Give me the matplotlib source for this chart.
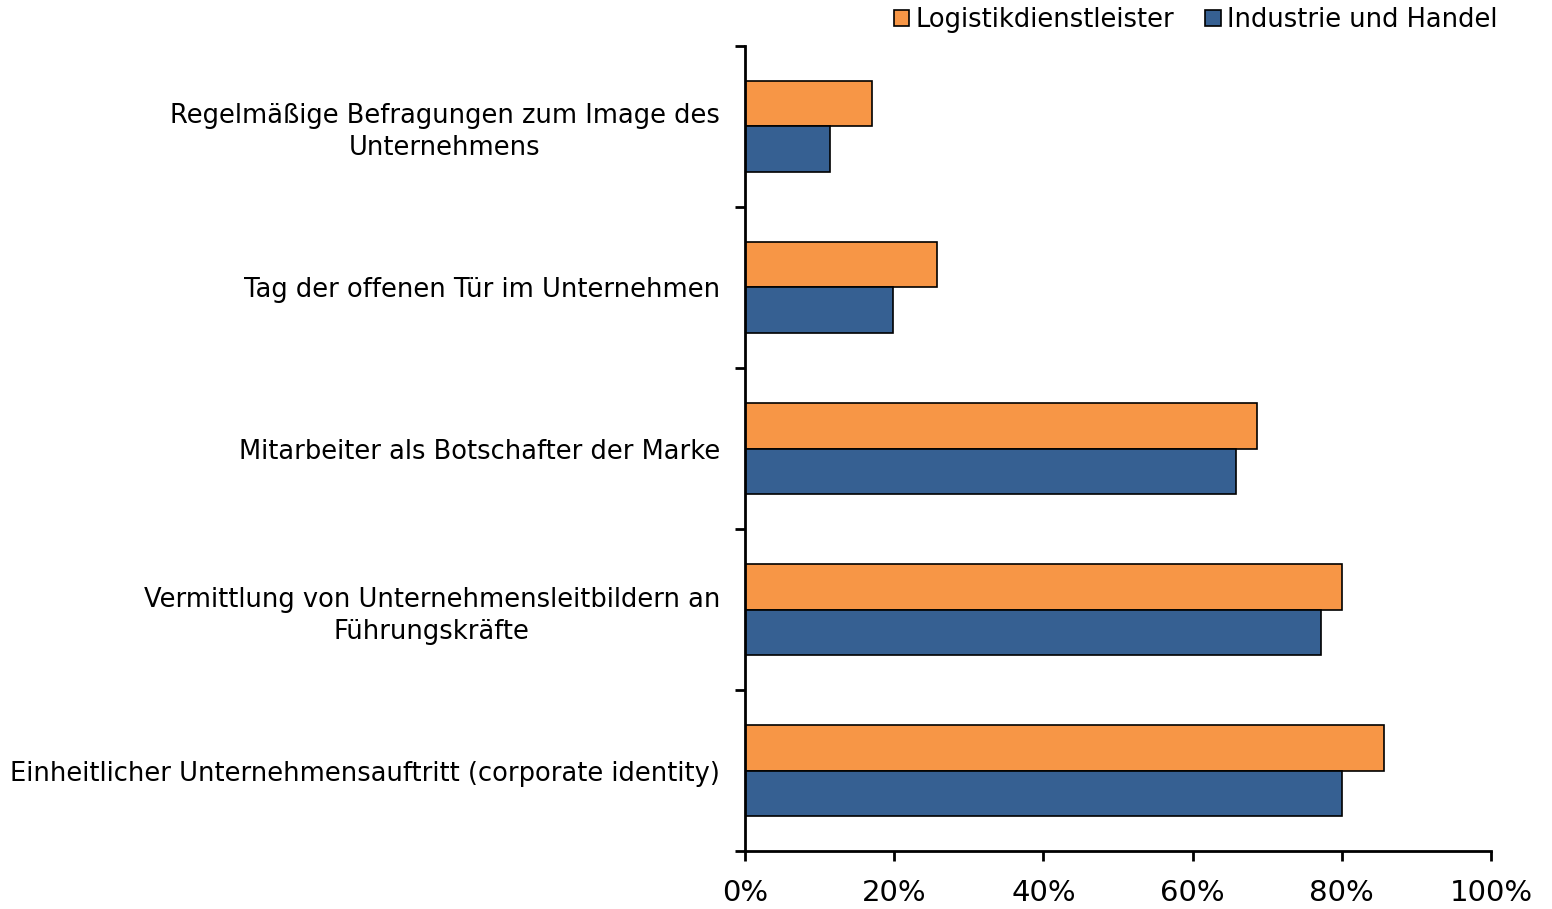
import matplotlib.pyplot as plt
import numpy as np

categories = [
    'Einheitlicher Unternehmensauftritt (corporate identity)',
    'Vermittlung von Unternehmensleitbildern an\nFührungskräfte',
    'Mitarbeiter als Botschafter der Marke',
    'Tag der offenen Tür im Unternehmen',
    'Regelmäßige Befragungen zum Image des\nUnternehmens',
]
logistik = [85.7, 80.0, 68.6, 25.7, 17.0]
industrie = [80.0, 77.2, 65.8, 19.8, 11.4]
xticks = [0, 20, 40, 60, 80, 100]

plt.rcParams['font.family'] = ['DejaVu Sans']

fig = plt.figure(figsize=(15.52, 9.09), dpi=100)
ax = fig.add_axes([0.480, 0.0638, 0.4807, 0.8856])

y = np.arange(len(categories))
h = 0.285
ax.barh(y + h / 2, logistik, height=h, color='#F79646', edgecolor='black',
        linewidth=1.2, label='Logistikdienstleister')
ax.barh(y - h / 2, industrie, height=h, color='#366092', edgecolor='black',
        linewidth=1.2, label='Industrie und Handel')

ax.set_xlim(0, 100)
ax.set_ylim(-0.5, len(categories) - 0.5)
ax.set_xticks(xticks)
ax.set_xticklabels([f'{v}%' for v in xticks], fontsize=21)
ax.tick_params(axis='x', direction='out', length=7, width=2, pad=13)

ax.set_yticks(y)
ax.set_yticklabels(categories, fontsize=18.5, multialignment='center',
                   linespacing=1.3)
ax.tick_params(axis='y', which='major', length=0, pad=18)
ax.set_yticks(np.arange(-0.5, len(categories)), minor=True)
ax.tick_params(axis='y', which='minor', direction='out', length=7, width=2)

for side in ['top', 'right']:
    ax.spines[side].set_visible(False)
for side in ['left', 'bottom']:
    ax.spines[side].set_linewidth(2)

fig.legend(loc='upper right', bbox_to_anchor=(0.98, 1.018), ncol=2,
           fontsize=18.5, frameon=False, handlelength=0.6, handleheight=0.6,
           handletextpad=0.25, columnspacing=1.2)

fig.savefig('out.png', dpi=100)
